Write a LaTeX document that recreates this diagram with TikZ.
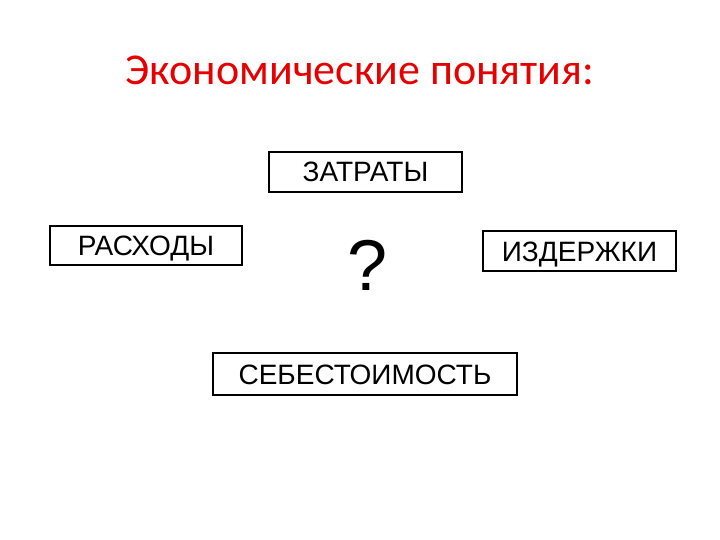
\documentclass[tikz,border=0pt]{standalone}
\usepackage{fontspec}
\setmainfont{Liberation Sans}
\newfontfamily\titlefont{Carlito}
\definecolor{titlered}{RGB}{230,0,0}
\tikzset{
  term/.style={draw=black, line width=1.2pt, minimum height=40pt, inner sep=0pt,
    text height=20pt, text depth=0pt, font=\fontsize{28}{30}\selectfont}
}
\begin{document}
\begin{tikzpicture}[x=1pt,y=-1pt]
  \useasboundingbox (0,0) rectangle (720,540);
  \node (title) at (360,70) {\titlefont\fontsize{44}{50}\selectfont\color{titlered} Экономические понятия:};
  \node [term, minimum width=193pt] (costs) at (365.5,172) {ЗАТРАТЫ};
  \node [term, minimum width=192pt, minimum height=39pt] (expenses) at (146,245.5) {РАСХОДЫ};
  \node [term, minimum width=193pt] (outlays) at (579.5,251) {ИЗДЕРЖКИ};
  \node [term, minimum width=304pt, minimum height=42pt] (cost) at (365,374) {СЕБЕСТОИМОСТЬ};
  \node (quest) at (368,265) {\fontsize{72}{80}\selectfont ?};
\end{tikzpicture}
\end{document}
